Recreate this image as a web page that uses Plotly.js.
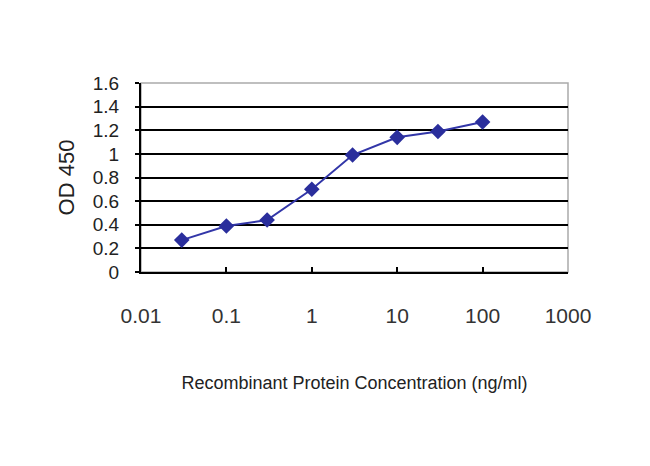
<!DOCTYPE html>
<html><head><meta charset="utf-8">
<script src="https://cdn.plot.ly/plotly-3.0.1.min.js"></script>
<style>html,body{margin:0;padding:0;background:#fff}#c{width:650px;height:466px}</style>
</head><body><div id="c"></div>
<script>
const concentrations = [0.03, 0.1, 0.3, 1, 3, 10, 30, 100];
const od450 = [0.27, 0.39, 0.44, 0.70, 0.99, 1.14, 1.19, 1.27];
const xTickVals = [0.01, 0.1, 1, 10, 100, 1000];
const xTickText = ['0.01', '0.1', '1', '10', '100', '1000'];
const yTickVals = [0, 0.2, 0.4, 0.6, 0.8, 1, 1.2, 1.4, 1.6];
const yTickText = ['0', '0.2', '0.4', '0.6', '0.8', '1', '1.2', '1.4', '1.6'];

const font = "'Liberation Sans', Arial, sans-serif";
const trace = {
  x: concentrations, y: od450, type: 'scatter', mode: 'lines+markers',
  line: {color: '#3236a8', width: 2},
  marker: {symbol: 'diamond', size: 12, color: '#2a2e9c'},
  showlegend: false, hoverinfo: 'none'
};
const layout = {
  width: 650, height: 466,
  margin: {l: 141, r: 82, t: 83, b: 194},
  paper_bgcolor: '#fff', plot_bgcolor: '#fff',
  xaxis: {
    type: 'log', range: [-2, 3],
    tickvals: xTickVals, ticktext: xTickText,
    ticks: 'inside', ticklen: 5, tickcolor: '#000', tickwidth: 2,
    showgrid: false, zeroline: false,
    showline: true, linecolor: '#000', linewidth: 2,
    tickfont: {family: font, size: 21, color: '#333'},
    ticklabelstandoff: 24,
    title: {text: 'Recombinant Protein Concentration (ng/ml)', font: {family: font, size: 18, color: '#222'}, standoff: 50}
  },
  yaxis: {
    range: [0, 1.6],
    tickvals: yTickVals, ticktext: yTickText,
    ticks: 'outside', ticklen: 4, tickcolor: '#000', tickwidth: 2,
    showgrid: true, gridcolor: '#000', gridwidth: 2,
    zeroline: false,
    showline: true, linecolor: '#000', linewidth: 2,
    tickfont: {family: font, size: 19, color: '#222'},
    ticklabelstandoff: 12,
    title: {text: 'OD 450', font: {family: font, size: 22, color: '#222'}, standoff: 12}
  },
  shapes: [{type: 'rect', xref: 'paper', yref: 'paper', x0: 0, x1: 1, y0: 0, y1: 1,
            line: {color: '#aaa', width: 1.5}, layer: 'below'}]
};
Plotly.newPlot('c', [trace], layout, {staticPlot: true, displayModeBar: false});
</script></body></html>
